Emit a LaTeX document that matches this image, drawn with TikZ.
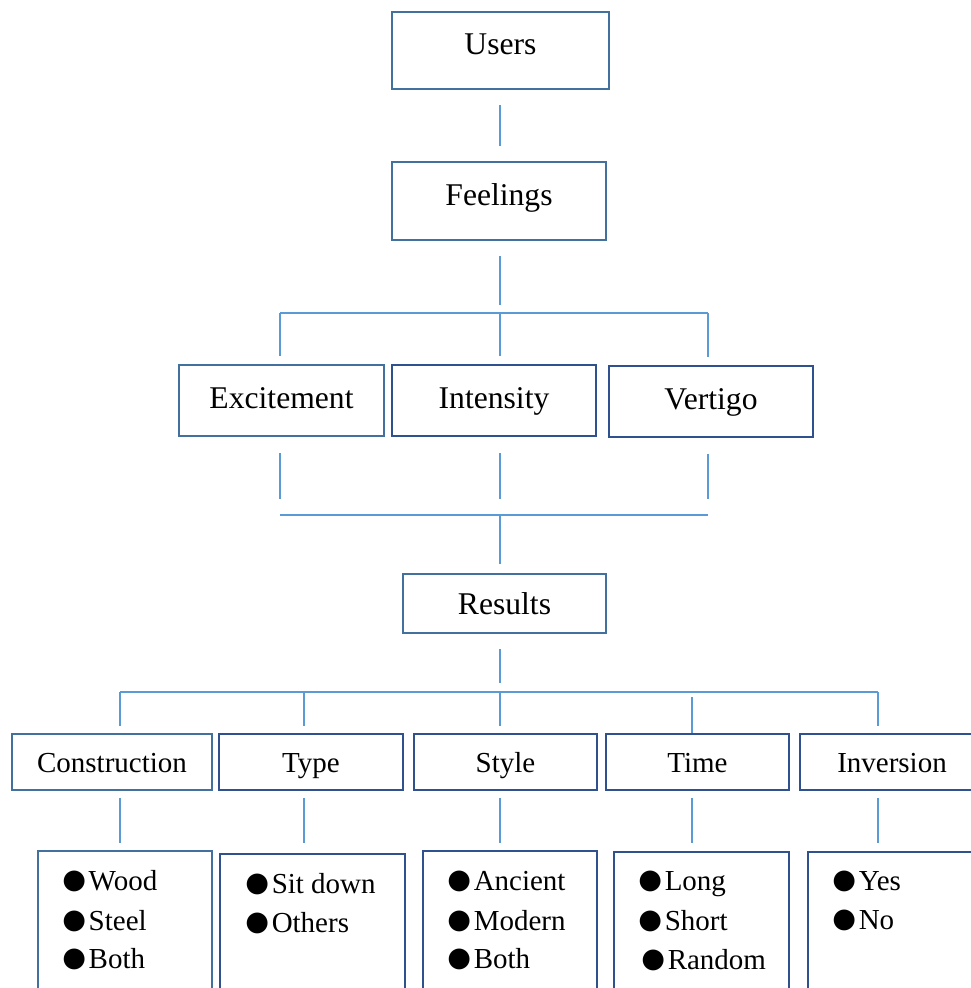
\documentclass[tikz,border=0pt]{standalone}
\usepackage{fontspec}
\setmainfont{Liberation Serif}
\newfontfamily\bulfont{DejaVu Sans}
\definecolor{boxlight}{RGB}{65,113,156}
\definecolor{boxdark}{RGB}{47,82,143}
\definecolor{linkblue}{RGB}{91,155,213}
\newcommand{\bul}{\raisebox{0.6pt}[0pt][0pt]{\bulfont\fontsize{15.5}{15.5}\selectfont ●}\kern1.5pt}
\tikzset{
    box/.style={draw=boxdark, line width=1.4pt, inner sep=0pt},
    bigtext/.style={font=\fontsize{18}{21}\selectfont},
    smalltext/.style={font=\fontsize{16.5}{20}\selectfont},
    link/.style={draw=linkblue, line width=0.8pt},
    item/.style={anchor=base west, inner sep=0pt, font=\fontsize{16.5}{20}\selectfont}
}
\begin{document}
\begin{tikzpicture}[x=0.02cm, y=-0.02cm]
    \useasboundingbox (0,0) rectangle (971,988);
    \clip (0,0) rectangle (971,988);

    % Users e Feelings
    \node[box, draw=boxlight, bigtext, minimum width=4.34cm, minimum height=1.54cm, text height=12pt, text depth=7pt] (users) at (500.5,50.5) {Users};
    \node[box, draw=boxlight, bigtext, minimum width=4.28cm, minimum height=1.56cm, text height=12pt, text depth=7pt] (feelings) at (499,201) {Feelings};

    % Sensazioni
    \node[box, draw=boxlight, bigtext, minimum width=4.1cm, minimum height=1.42cm, text height=12pt, text depth=3.4pt] (excitement) at (281.5,400.5) {Excitement};
    \node[box, bigtext, minimum width=4.08cm, minimum height=1.42cm, text height=12pt, text depth=3.4pt] (intensity) at (494,400.5) {Intensity};
    \node[box, bigtext, minimum width=4.08cm, minimum height=1.42cm, text height=12pt, text depth=3.4pt] (vertigo) at (711,401.5) {Vertigo};

    % Results
    \node[box, draw=boxlight, bigtext, minimum width=4.06cm, minimum height=1.18cm, text height=12pt, text depth=0pt] (results) at (504.5,603.5) {Results};

    % Categorie
    \node[box, draw=boxlight, smalltext, minimum width=4cm, minimum height=1.12cm, text height=12.5pt, text depth=0pt] (construction) at (112,762) {Construction};
    \node[box, smalltext, minimum width=3.68cm, minimum height=1.12cm, text height=12.5pt, text depth=0pt] (type) at (311,762) {Type};
    \node[box, smalltext, minimum width=3.66cm, minimum height=1.12cm, text height=12.5pt, text depth=0pt] (style) at (505.5,762) {Style};
    \node[box, smalltext, minimum width=3.66cm, minimum height=1.12cm, text height=12.5pt, text depth=0pt] (time) at (697.5,762) {Time};
    \node[box, smalltext, minimum width=3.68cm, minimum height=1.12cm, text height=12.5pt, text depth=0pt] (inversion) at (892,762) {Inversion};

    % Box delle liste
    \node[box, draw=boxlight, minimum width=3.48cm, minimum height=3cm, anchor=north] (conlist) at (125,850) {};
    \node[box, minimum width=3.7cm, minimum height=3cm, anchor=north] (typelist) at (312.5,853) {};
    \node[box, minimum width=3.48cm, minimum height=3cm, anchor=north] (stylelist) at (510,850) {};
    \node[box, minimum width=3.5cm, minimum height=3cm, anchor=north] (timelist) at (701.5,851) {};
    \node[box, minimum width=3.54cm, minimum height=3cm, anchor=north] (invlist) at (896.5,851) {};

    % Voci delle liste
    \node[item] (wood) at (62,890) {\bul Wood};
    \node[item] (steel) at (62,930) {\bul Steel};
    \node[item] (conboth) at (62,968) {\bul Both};
    \node[item] (sitdown) at (245,893) {\bul Sit down};
    \node[item] (others) at (245,932) {\bul Others};
    \node[item] (ancient) at (447,890) {\bul Ancient};
    \node[item] (modern) at (447,930) {\bul Modern};
    \node[item] (styboth) at (447,968) {\bul Both};
    \node[item] (long) at (638,890) {\bul Long};
    \node[item] (short) at (638,930) {\bul Short};
    \node[item] (random) at (641,969) {\bul Random};
    \node[item] (yes) at (832,890) {\bul Yes};
    \node[item] (no) at (832,929) {\bul No};

    % Punti delle barre
    \coordinate (fa) at (280,313);
    \coordinate (fb) at (500,313);
    \coordinate (fc) at (708,313);
    \coordinate (ma) at (280,515);
    \coordinate (mb) at (500,515);
    \coordinate (mc) at (708,515);
    \coordinate (ra) at (120,692);
    \coordinate (rb) at (304,692);
    \coordinate (rc) at (500,692);
    \coordinate (rd) at (692,692);
    \coordinate (re) at (878,692);

    % Collegamenti in alto
    \draw[link, shorten <=0.3cm, shorten >=0.3cm] (users.south -| fb) -- (feelings.north -| fb);
    \draw[link, shorten <=0.3cm, shorten >=0.16cm] (feelings.south -| fb) -- (fb);
    \draw[link] (fa) -- (fc);
    \draw[link, shorten >=0.16cm] (fa) -- (excitement.north -| fa);
    \draw[link, shorten >=0.16cm] (fb) -- (intensity.north -| fb);
    \draw[link, shorten >=0.16cm] (fc) -- (vertigo.north -| fc);

    % Collegamenti verso Results
    \draw[link, shorten <=0.32cm, shorten >=0.32cm] (excitement.south -| ma) -- (ma);
    \draw[link, shorten <=0.32cm, shorten >=0.32cm] (intensity.south -| mb) -- (mb);
    \draw[link, shorten <=0.32cm, shorten >=0.32cm] (vertigo.south -| mc) -- (mc);
    \draw[link] (ma) -- (mc);
    \draw[link, shorten >=0.18cm] (mb) -- (results.north -| mb);

    % Collegamenti verso le categorie
    \draw[link, shorten <=0.3cm, shorten >=0.18cm] (results.south -| rc) -- (rc);
    \draw[link] (ra) -- (re);
    \draw[link, shorten >=0.14cm] (ra) -- (construction.north -| ra);
    \draw[link, shorten >=0.14cm] (rb) -- (type.north -| rb);
    \draw[link, shorten >=0.14cm] (rc) -- (style.north -| rc);
    \draw[link, shorten <=0.1cm] (rd) -- (time.north -| rd);
    \draw[link, shorten >=0.14cm] (re) -- (inversion.north -| re);

    % Collegamenti verso le liste
    \draw[link, shorten <=0.14cm, shorten >=0.14cm] (construction.south -| ra) -- (conlist.north -| ra);
    \draw[link, shorten <=0.14cm, shorten >=0.2cm] (type.south -| rb) -- (typelist.north -| rb);
    \draw[link, shorten <=0.14cm, shorten >=0.14cm] (style.south -| rc) -- (stylelist.north -| rc);
    \draw[link, shorten <=0.14cm, shorten >=0.16cm] (time.south -| rd) -- (timelist.north -| rd);
    \draw[link, shorten <=0.14cm, shorten >=0.16cm] (inversion.south -| re) -- (invlist.north -| re);
\end{tikzpicture}
\end{document}
